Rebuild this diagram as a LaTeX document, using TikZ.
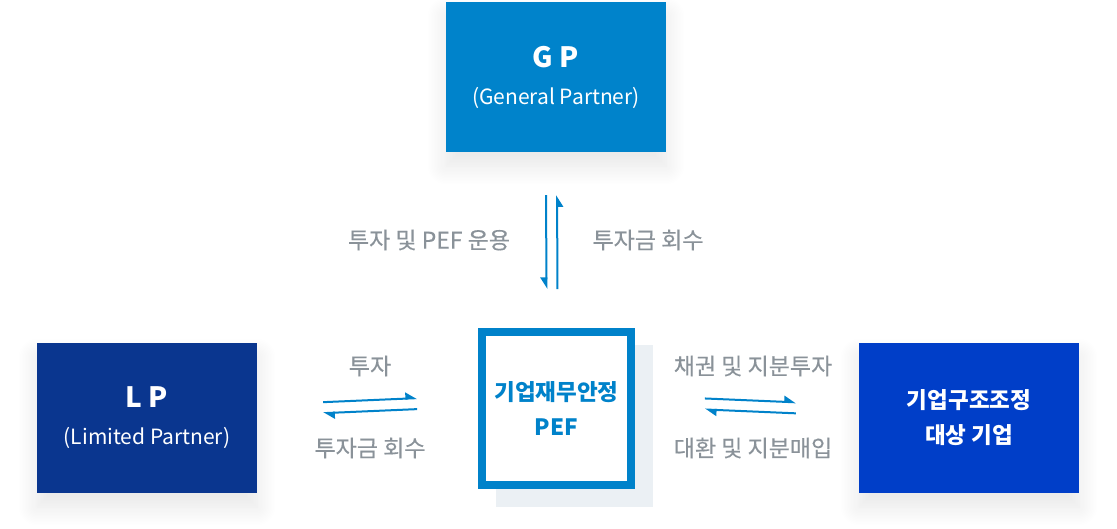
\documentclass[tikz,border=0pt]{standalone}
\usepackage{fontspec}
\setmainfont{Noto Sans CJK KR}
\newfontfamily\medfont[FakeBold=0.4]{Noto Sans CJK KR}
\usetikzlibrary{arrows.meta, shadows.blur}

\definecolor{gpblue}{HTML}{0083CB}
\definecolor{lpblue}{HTML}{0A368F}
\definecolor{tgtblue}{HTML}{003EC8}
\definecolor{pefblue}{HTML}{0082CA}
\definecolor{backgray}{HTML}{EBF0F4}
\definecolor{labelgray}{HTML}{8A9299}

\tikzset{
    party/.style={minimum width=220pt, minimum height=150pt, inner sep=0pt,
        text=white, align=center, font=\bfseries\fontsize{22.5}{35}\selectfont,
        blur shadow={shadow xshift=0pt, shadow yshift=-14pt,
            shadow blur radius=20pt, shadow opacity=10, shadow blur steps=14}},
    flow/.style={draw=pefblue, line width=2pt},
    harpl/.style={flow, -{Triangle[left, length=10pt, width=12pt]}},
    harpr/.style={flow, -{Triangle[right, length=10pt, width=12pt]}},
    note/.style={text=labelgray, font=\medfont\fontsize{23}{26}\selectfont}
}

\begin{document}
\begin{tikzpicture}[x=1pt, y=-1pt]
    \useasboundingbox (0,0) rectangle (1117,528);
    % boxes
    \node [party, fill=gpblue] (gp) at (556,77)
        {{\fontsize{28}{30}\selectfont G P}\\[2pt]{\mdseries\fontsize{21}{24}\selectfont (General Partner)}};
    \node [party, fill=lpblue] (lp) at (147,418)
        {{\fontsize{28}{30}\selectfont L P}\\[2pt]{\mdseries\fontsize{21}{24}\selectfont (Limited Partner)}};
    \node [party, fill=tgtblue] (tgt) at (969,418) {기업구조조정\\대상 기업};
    \fill [backgray] (496,345) rectangle (653,507);
    \node [draw=pefblue, fill=white, line width=8pt, minimum width=149pt, minimum height=153pt,
        inner sep=0pt, align=center, text=pefblue, font=\bfseries\fontsize{22.5}{35}\selectfont]
        (pef) at (556.5,408.5) {기업재무안정\\PEF};
    % arrows
    \draw [harpr, shorten <=43pt, shorten >=39pt] ([xshift=-10pt]gp.south) -- ([xshift=-10pt]pef.north);
    \draw [harpr, shorten <=39pt, shorten >=43pt] ([xshift=1pt]pef.north) -- ([xshift=1pt]gp.south);
    \draw [harpl, shorten <=66pt, shorten >=61pt] ([yshift=13pt]lp.east) -- ([yshift=13pt]pef.west);
    \draw [harpl, shorten <=61pt, shorten >=66pt] ([yshift=2pt]pef.west) -- ([yshift=2pt]lp.east);
    \draw [harpl, shorten <=70pt, shorten >=63pt] ([yshift=13pt]pef.east) -- ([yshift=13pt]tgt.west);
    \draw [harpl, shorten <=63pt, shorten >=70pt] ([yshift=2pt]tgt.west) -- ([yshift=2pt]pef.east);
    % labels
    \node [note] (gpdown) at (429,240) {투자 및 PEF 운용};
    \node [note] (gpup) at (648,240) {투자금 회수};
    \node [note] (lpin) at (370,366) {투자};
    \node [note] (lpout) at (370,448) {투자금 회수};
    \node [note] (tgtin) at (753,366) {채권 및 지분투자};
    \node [note] (tgtout) at (753,448) {대환 및 지분매입};
\end{tikzpicture}
\end{document}
